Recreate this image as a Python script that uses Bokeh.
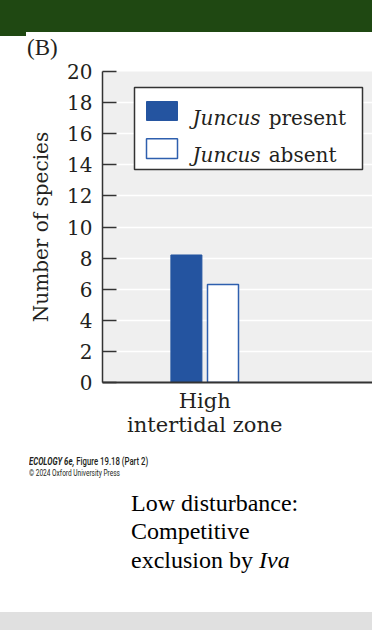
from bokeh.plotting import figure
from bokeh.layouts import column
from bokeh.models import Range1d, FixedTicker, BoxAnnotation, Label, ColumnDataSource, Div
from bokeh.transform import dodge
from bokeh.embed import file_html
from bokeh.resources import INLINE

# ---- data ----
categories = ["High\nintertidal zone"]
juncus_present = [8.2]
juncus_absent = [6.3]
y_ticks = [0, 2, 4, 6, 8, 10, 12, 14, 16, 18, 20]
y_label = "Number of species"
legend_genus = "Juncus"
legend_states = ["present", "absent"]
panel_label = "(B)"
footer_book = "ECOLOGY 6e,"
footer_fig = "Figure 19.18 (Part 2)"
footer_copy = "\u00a9 2024 Oxford University Press"
caption_lines = ["Low disturbance:", "Competitive", "exclusion by"]
caption_genus = "Iva"

INK = "#231f20"
BLUE = "#2454a0"
BLUE_LINE = "#2e5fae"
GREEN = "#1f4812"
SERIF = "DejaVu Serif"
W = 372

# ---- top strip: green band and panel letter ----
top_html = (
    f'<div style="position:relative;width:{W}px;height:60px;overflow:hidden;background:white">'
    f'<div style="position:absolute;left:0;top:0;width:{W}px;height:32px;background:{GREEN}"></div>'
    f'<div style="position:absolute;left:0;top:32px;width:26px;height:3.5px;background:{GREEN}"></div>'
    f'<span style="position:absolute;left:27px;top:35.7px;font-family:\'Liberation Serif\';'
    f'font-size:23px;line-height:1;color:{INK};white-space:nowrap">{panel_label}</span>'
    '</div>'
)
top = Div(text=top_html, width=W, height=60, margin=0)

# ---- main chart ----
cat_pos = list(range(len(categories)))
src = ColumnDataSource(dict(x=cat_pos, present=juncus_present, absent=juncus_absent))

p = figure(width=W, height=385, x_range=Range1d(-1.022, 1.678), y_range=Range1d(0, 20),
           output_backend="svg", toolbar_location=None,
           min_border_left=102, min_border_top=11, min_border_bottom=63, min_border_right=0)
p.margin = 0
p.background_fill_color = "#efefef"
p.border_fill_color = "white"
p.outline_line_color = None
p.xgrid.visible = False
p.ygrid.grid_line_color = "white"
p.ygrid.grid_line_width = 1.5

p.vbar(x=dodge("x", -0.183, range=p.x_range), top="present", width=0.31, source=src,
       fill_color=BLUE, line_color=BLUE, line_width=1)
p.vbar(x=dodge("x", 0.183, range=p.x_range), top="absent", width=0.31, source=src,
       fill_color="white", line_color=BLUE_LINE, line_width=1.5)

yax = p.yaxis[0]
yax.ticker = FixedTicker(ticks=y_ticks)
yax.axis_label = y_label
yax.axis_label_text_font = SERIF
yax.axis_label_text_font_size = "20px"
yax.axis_label_text_font_style = "normal"
yax.axis_label_text_color = INK
yax.axis_label_standoff = 11
yax.axis_line_color = "#333333"
yax.axis_line_width = 1.5
yax.major_tick_in = 14
yax.major_tick_out = 0
yax.major_tick_line_color = "#333333"
yax.major_tick_line_width = 1.5
yax.minor_tick_line_color = None
yax.major_label_text_font = SERIF
yax.major_label_text_font_size = "20px"
yax.major_label_text_color = INK
yax.major_label_standoff = 10

xax = p.xaxis[0]
xax.ticker = FixedTicker(ticks=cat_pos)
xax.major_label_overrides = {i: c for i, c in zip(cat_pos, categories)}
xax.major_tick_in = 0
xax.major_tick_out = 0
xax.minor_tick_line_color = None
xax.axis_line_color = "#333333"
xax.axis_line_width = 2
xax.major_label_text_font = SERIF
xax.major_label_text_font_size = "21px"
xax.major_label_text_color = INK
xax.major_label_text_line_height = 1.0
xax.major_label_standoff = 6

# legend (built from annotations to allow an italic genus name)
p.add_layout(BoxAnnotation(left=-0.702, right=1.578, top=18.97, bottom=13.70,
                           fill_color="white", fill_alpha=1,
                           line_color="#333333", line_width=1.5, line_alpha=1))
p.add_layout(BoxAnnotation(left=-0.582, right=-0.272, top=18.07, bottom=16.85,
                           fill_color=BLUE, fill_alpha=1, line_color=BLUE, line_alpha=1))
p.add_layout(BoxAnnotation(left=-0.582, right=-0.272, top=15.67, bottom=14.41,
                           fill_color="white", fill_alpha=1, line_color=BLUE_LINE,
                           line_width=1.5, line_alpha=1))
for yy, state in zip([17.02, 14.60], legend_states):
    p.add_layout(Label(x=-0.122, y=yy, text=legend_genus, text_font=SERIF,
                       text_font_style="italic", text_font_size="20px",
                       text_color=INK, text_baseline="alphabetic"))
    p.add_layout(Label(x=0.64, y=yy, text=state, text_font=SERIF,
                       text_font_size="20px", text_color=INK, text_baseline="alphabetic"))

# ---- bottom strip: credit line and caption ----
cond = "display:inline-block;transform-origin:0 0;white-space:nowrap;line-height:1"
bottom_html = (
    f'<div style="position:relative;width:{W}px;height:185px;overflow:hidden;background:white">'
    f'<span style="position:absolute;left:29px;top:12.2px;font-family:Roboto;font-size:10.5px;'
    f'color:{INK};{cond};transform:scaleX(0.74)">'
    f'<b><i>{footer_book}</i></b> <span style="font-weight:500">{footer_fig}</span></span>'
    f'<span style="position:absolute;left:29px;top:23.9px;font-family:Roboto;font-size:8.5px;'
    f'color:{INK};{cond};transform:scaleX(0.77)">{footer_copy}</span>'
    f'<div style="position:absolute;left:131px;top:43.6px;font-family:\'Liberation Serif\';'
    f'font-size:24px;line-height:28.5px;color:black;white-space:nowrap">'
    f'{caption_lines[0]}<br>{caption_lines[1]}<br>{caption_lines[2]} <i>{caption_genus}</i></div>'
    f'<div style="position:absolute;left:0;top:167px;width:{W}px;height:18px;background:#e0e0e0"></div>'
    '</div>'
)
bottom = Div(text=bottom_html, width=W, height=185, margin=0)

layout = column(top, p, bottom, spacing=0)
open("out.html", "w").write(file_html(layout, INLINE))
